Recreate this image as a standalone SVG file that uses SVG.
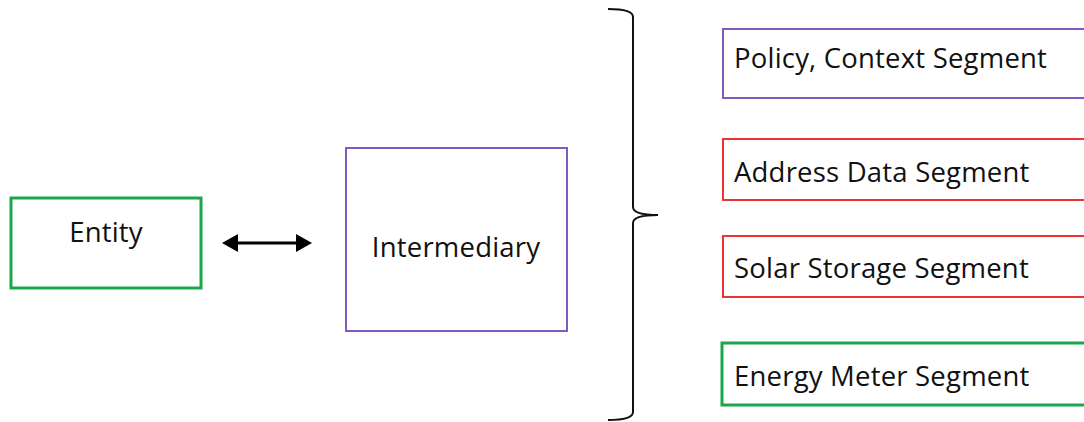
<svg xmlns="http://www.w3.org/2000/svg" width="1084" height="422" viewBox="0 0 1084 422">
<defs>
<style>
.lbl{font-family:"Open Sans","Liberation Sans",sans-serif;font-size:27.5px;letter-spacing:0.2px;fill:#111}
.g{fill:#fff;stroke:#1aa64a;stroke-width:3}
.p{fill:#fff;stroke:#7f5bbd;stroke-width:2}
.r{fill:#fff;stroke:#ee3330;stroke-width:2}
</style>
</defs>
<rect width="1084" height="422" fill="#fff"/>
<g id="connectors">
<line x1="230" y1="243" x2="304" y2="243" stroke="#000" stroke-width="3"/>
<path d="M222,243 L238,234 L238,252 z" fill="#000"/>
<path d="M312,243 L296,234 L296,252 z" fill="#000"/>
<path d="M608,9 Q633,9 633,17 L633,207 Q633,215 658,215 Q633,215 633,223 L633,412 Q633,420 608,420" fill="none" stroke="#111" stroke-width="2"/>
</g>
<g id="entity">
<rect class="g" x="11" y="198" width="190" height="90"/>
<text class="lbl" x="106" y="242" text-anchor="middle">Entity</text>
</g>
<g id="intermediary">
<rect class="p" x="346" y="148" width="221" height="183"/>
<text class="lbl" x="456" y="257" text-anchor="middle">Intermediary</text>
</g>
<g id="policy">
<rect class="p" x="723" y="29" width="370" height="69"/>
<text class="lbl" x="734" y="68">Policy, Context Segment</text>
</g>
<g id="address">
<rect class="r" x="723" y="139" width="370" height="61"/>
<text class="lbl" x="734" y="182">Address Data Segment</text>
</g>
<g id="solar">
<rect class="r" x="723" y="236" width="370" height="61"/>
<text class="lbl" x="734" y="278">Solar Storage Segment</text>
</g>
<g id="energy">
<rect class="g" x="722" y="343" width="370" height="62"/>
<text class="lbl" x="734" y="386">Energy Meter Segment</text>
</g>
</svg>
